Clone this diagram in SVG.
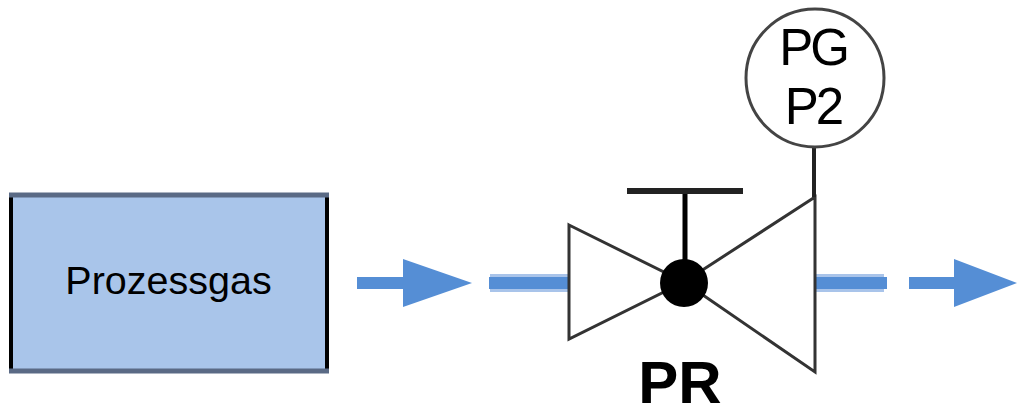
<svg xmlns="http://www.w3.org/2000/svg" width="1017" height="405" viewBox="0 0 1017 405">
<style>
text{font-family:"Liberation Sans",Arial,sans-serif;fill:#000;text-anchor:middle}
.v{fill:#fff;stroke:#333;stroke-width:3}
.halo{stroke:#a9c4ea;stroke-width:18;fill:none}
.core{stroke:#558ed5;stroke-width:12;fill:none}
.head{fill:#558ed5}
</style>
<rect width="1017" height="405" fill="#fff"/>
<g id="connectors">
<path class="core" d="M357 283H405"/>
<path class="head" d="M403 259L472 283L403 307Z"/>
<path class="halo" d="M490 283H570"/>
<path class="core" d="M489 283H570"/>
<path class="halo" d="M814 283H884"/>
<path class="core" d="M814 283H887"/>
<path class="core" d="M909 283H956"/>
<path class="head" d="M954 259L1017 283L954 307Z"/>
</g>
<g id="node-prozessgas">
<rect x="11" y="195" width="316" height="176" fill="#a9c5ea" stroke="#000" stroke-width="4"/>
<path d="M9 195H329M9 371H329" stroke="#5a6a85" stroke-width="5" fill="none"/>
<text x="168.500" y="294" font-size="39.500">Prozessgas</text>
</g>
<g id="node-valve">
<path class="v" d="M569 225L684 282L569 339Z"/>
<path class="v" d="M815 197L684 282L815 372Z"/>
<path d="M685 191V262" stroke="#000" stroke-width="5" fill="none"/>
<path d="M627 191H743" stroke="#222" stroke-width="6" fill="none"/>
<circle cx="684" cy="283" r="24" fill="#000"/>
<text x="680" y="403" font-size="60" font-weight="700">PR</text>
</g>
<g id="node-pg">
<path d="M814 147V197" stroke="#222" stroke-width="4" fill="none"/>
<circle cx="815" cy="78" r="69" fill="#fff" stroke="#444" stroke-width="3"/>
<text x="813" y="65" font-size="51" letter-spacing="-3">PG</text>
<text x="813" y="124" font-size="51" letter-spacing="-3">P2</text>
</g>
</svg>
